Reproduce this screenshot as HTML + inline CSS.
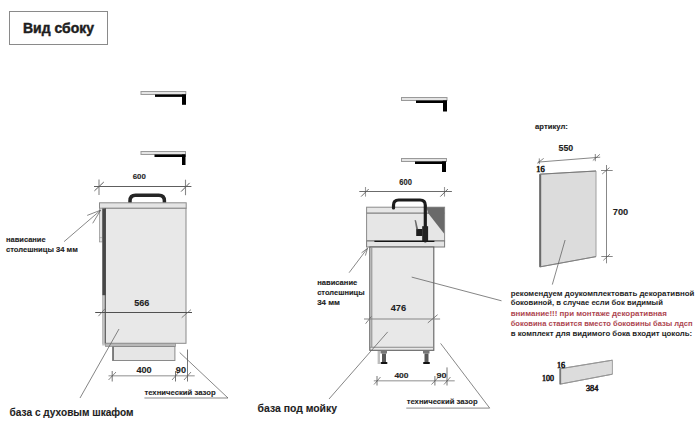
<!DOCTYPE html>
<html><head><meta charset="utf-8">
<style>
html,body{margin:0;padding:0;background:#fff;width:700px;height:428px;overflow:hidden}
svg{display:block}
text{font-family:"Liberation Sans",sans-serif;font-weight:bold;fill:#1e1e1e;stroke:#1e1e1e;stroke-width:0.12px}
.r{font-weight:normal}
.s{font-family:"Liberation Serif",serif;font-weight:normal;stroke-width:0.6px}
.red{fill:#ad4650;stroke:#ad4650}
</style></head><body>
<svg width="700" height="428" viewBox="0 0 700 428">
<!-- title -->
<rect x="9.5" y="11.5" width="98" height="33" fill="#fff" stroke="#8a8a8a" stroke-width="1"/>
<text x="23" y="33" font-size="14" style="stroke-width:0.45px" textLength="71" lengthAdjust="spacingAndGlyphs">Вид сбоку</text>

<!-- countertop profiles -->
<g id="prof">
<rect x="141" y="91.5" width="44.8" height="3" fill="#e4e4e4" stroke="#9a9a9a" stroke-width="1"/>
<rect x="155" y="94.5" width="31" height="2.4" fill="#000"/>
<rect x="182" y="94.5" width="4" height="10.3" fill="#000"/>
</g>
<rect x="141" y="151.5" width="44.5" height="3" fill="#e4e4e4" stroke="#9a9a9a" stroke-width="1"/>
<rect x="154.5" y="154.5" width="31" height="2.5" fill="#000"/>
<rect x="182" y="154.5" width="3.5" height="10.5" fill="#000"/>

<rect x="401.5" y="97.5" width="45.5" height="3" fill="#e4e4e4" stroke="#9a9a9a" stroke-width="1"/>
<rect x="416" y="100.5" width="31" height="2.5" fill="#000"/>
<rect x="443" y="100.5" width="4" height="11" fill="#000"/>
<rect x="401.5" y="158.5" width="45" height="3" fill="#e4e4e4" stroke="#9a9a9a" stroke-width="1"/>
<rect x="415" y="161.5" width="31" height="2.5" fill="#000"/>
<rect x="442" y="161.5" width="4" height="10.5" fill="#000"/>

<!-- ================= LEFT CABINET ================= -->
<text x="132.7" y="178.8" font-size="7.9" textLength="13.1" lengthAdjust="spacingAndGlyphs">600</text>
<g stroke="#888" stroke-width="1.1" fill="none">
<line x1="99" y1="179.5" x2="99" y2="195"/>
<line x1="185.5" y1="179.7" x2="185.5" y2="195.2"/>
</g>
<g stroke="#5e5e5e" stroke-width="1" fill="none">
<line x1="94" y1="186.5" x2="191.4" y2="186.5"/>
<line x1="94.4" y1="190.9" x2="103.8" y2="182"/>
<line x1="181.1" y1="191.6" x2="189.6" y2="182.9"/>
</g>
<!-- handle -->
<path d="M130 203 V200.8 Q130 195.2 135.6 195.2 H158.8 Q164.4 195.2 164.4 200.8 V203" fill="none" stroke="#262626" stroke-width="3.5"/>
<!-- countertop -->
<rect x="99.5" y="202.8" width="86.7" height="5.5" fill="#e4e4e4" stroke="#8a8a8a" stroke-width="1"/>
<!-- body -->
<rect x="102.7" y="208.3" width="83.3" height="135" fill="#e8e8e8" stroke="#8a8a8a" stroke-width="1"/>
<rect x="102.2" y="208.3" width="3.3" height="137.2" fill="#c4c4c4"/>
<line x1="105.3" y1="208.3" x2="105.3" y2="343.5" stroke="#4a4a4a" stroke-width="1"/>
<!-- side strip -->
<rect x="99.5" y="208.3" width="3" height="33.6" fill="#e2e2e2" stroke="#9a9a9a" stroke-width="0.8"/>
<line x1="99.5" y1="237.6" x2="102.5" y2="237.6" stroke="#999" stroke-width="0.6"/>
<!-- dark bar -->
<rect x="102.4" y="208.4" width="3.3" height="86.8" fill="#474747"/>
<!-- bottom board -->
<rect x="105.5" y="343.3" width="70" height="3.2" fill="#b8b8b8" stroke="#8a8a8a" stroke-width="0.7"/>
<!-- plinth -->
<rect x="112.6" y="346.5" width="62.3" height="14" fill="#e6e6e6" stroke="#8a8a8a" stroke-width="1"/>
<line x1="113.2" y1="346.5" x2="113.2" y2="360.5" stroke="#7a7a7a" stroke-width="1.6"/>

<text x="134.3" y="305.9" font-size="8.8" textLength="15.1" lengthAdjust="spacingAndGlyphs">566</text>
<g stroke="#666" stroke-width="0.8" fill="none">
<line x1="95.2" y1="312.5" x2="192" y2="312.5" stroke="#505050" stroke-width="1"/>
<line x1="98.4" y1="316.2" x2="105" y2="308.7"/>
<line x1="181.7" y1="317.7" x2="191" y2="309.6"/>
<!-- pointer -->
<line x1="80" y1="398" x2="119" y2="329"/>
</g>
<!-- 400 / 90 -->
<g stroke="#b4b4b4" stroke-width="1.6" fill="none">
<line x1="108.5" y1="375.8" x2="194.7" y2="375.8"/>
</g>
<g stroke="#666" stroke-width="0.9" fill="none">
<line x1="112.2" y1="371" x2="112.2" y2="381.5"/>
<line x1="175.5" y1="371" x2="175.5" y2="381.5"/>
<line x1="187.5" y1="349.5" x2="187.5" y2="381.5"/>
</g>
<g stroke="#555" stroke-width="0.7" fill="none">
<line x1="108.5" y1="380" x2="116" y2="372"/>
<line x1="172" y1="380" x2="179" y2="372"/>
<line x1="184" y1="380" x2="191" y2="372"/>
<line x1="179.7" y1="352.5" x2="228" y2="398"/>
<line x1="144.4" y1="398" x2="228" y2="398"/>
</g>
<text x="136.4" y="372.8" font-size="8.4" textLength="15.3" lengthAdjust="spacingAndGlyphs">400</text>
<text x="175.8" y="373" font-size="9.2" textLength="10.2" lengthAdjust="spacingAndGlyphs">90</text>
<text x="144.4" y="395" font-size="7.2" style="stroke-width:0.1px" textLength="71.2" lengthAdjust="spacingAndGlyphs">технический зазор</text>
<text x="9.6" y="416" font-size="11.8" textLength="124" lengthAdjust="spacingAndGlyphs">база с духовым шкафом</text>

<!-- overhang annotation left -->
<text x="6" y="242.1" font-size="7.7" textLength="39.6" lengthAdjust="spacingAndGlyphs">нависание</text>
<text x="6" y="252.3" font-size="7.7" textLength="71.8" lengthAdjust="spacingAndGlyphs">столешницы 34 мм</text>
<g stroke="#555" stroke-width="0.7" fill="none">
<line x1="64.1" y1="241.6" x2="100.6" y2="210.2"/>
<line x1="87.2" y1="215.4" x2="100.6" y2="210.2"/>
<line x1="92.7" y1="223.3" x2="100.6" y2="210.2"/>
</g>

<!-- ================= MIDDLE CABINET ================= -->
<text x="399.3" y="185.1" font-size="8.3" textLength="12.6" lengthAdjust="spacingAndGlyphs">600</text>
<g stroke="#999" stroke-width="1.1" fill="none">
<line x1="365.5" y1="187" x2="365.5" y2="196.6"/>
<line x1="444.5" y1="187" x2="444.5" y2="196.6"/>
</g>
<g stroke="#5a5a5a" stroke-width="0.9" fill="none">
<line x1="359.3" y1="191.5" x2="451.9" y2="191.5"/>
<line x1="361.1" y1="196.6" x2="368.7" y2="189"/>
<line x1="440.3" y1="196.6" x2="447.9" y2="189"/>
</g>
<!-- backsplash box -->
<rect x="366.6" y="207.2" width="78" height="33.6" fill="#e6e6e6" stroke="#8a8a8a" stroke-width="1"/>
<line x1="366.6" y1="213.1" x2="444.6" y2="213.1" stroke="#808080" stroke-width="1.1"/>
<polygon points="426.5,207.2 444.2,207.2 444.2,233.8 428,213" fill="#6a6a6a"/>
<!-- countertop -->
<rect x="366.6" y="241" width="78" height="6" fill="#e4e4e4" stroke="#7a7a7a" stroke-width="1"/>
<line x1="374.4" y1="241.4" x2="434.4" y2="241.4" stroke="#151515" stroke-width="1.2"/>
<!-- faucet -->
<path d="M393.5 208 V205.2 Q393.5 200 398.7 200 H420 Q425.3 200 425.3 205.3 V241" fill="none" stroke="#1c1c1c" stroke-width="3.2" stroke-linecap="round"/>
<rect x="422.2" y="226.2" width="5.9" height="14.8" fill="#222"/>
<rect x="416.2" y="229" width="6.2" height="7" fill="#1e1e1e"/>
<polygon points="414.6,220 416,220.3 418.2,229.2 416.2,229.2" fill="#6a6a6a"/>
<!-- body -->
<rect x="369.8" y="247" width="64" height="103.3" fill="#e8e8e8" stroke="#606060" stroke-width="1.1"/>
<line x1="371.8" y1="247.5" x2="371.8" y2="347" stroke="#7a7a7a" stroke-width="0.9"/>
<line x1="370" y1="347.2" x2="433.5" y2="347.2" stroke="#8a8a8a" stroke-width="1.1"/>
<!-- legs -->
<rect x="377.6" y="351" width="2.4" height="13" fill="#bdbdbd"/>
<rect x="380.5" y="351" width="6.5" height="2.5" fill="#777"/>
<rect x="382" y="353.5" width="4" height="8.5" fill="#585858"/>
<rect x="380.5" y="362" width="7" height="2" rx="1" fill="#111"/>
<rect x="423" y="351" width="6.5" height="2.5" fill="#777"/>
<rect x="424.5" y="353.5" width="4" height="8.5" fill="#585858"/>
<rect x="423" y="362" width="7" height="2" rx="1" fill="#111"/>

<text x="390.7" y="311.1" font-size="9" textLength="15.4" lengthAdjust="spacingAndGlyphs">476</text>
<g stroke="#666" stroke-width="0.8" fill="none">
<line x1="364" y1="319" x2="440.1" y2="319" stroke="#858585" stroke-width="1.2"/>
<line x1="365.6" y1="323.7" x2="371.4" y2="316.4"/>
<line x1="427.8" y1="322.9" x2="437.6" y2="314.7"/>
<line x1="329" y1="399" x2="387.7" y2="331.9"/>
<line x1="411.7" y1="277.1" x2="501.5" y2="300.8"/>
</g>
<g stroke="#b4b4b4" stroke-width="1.5" fill="none">
<line x1="373.8" y1="380.7" x2="454.7" y2="380.7"/>
</g>
<g stroke="#666" stroke-width="0.9" fill="none">
<line x1="377" y1="376" x2="377" y2="385.5"/>
<line x1="434.9" y1="376" x2="434.9" y2="385.5"/>
<line x1="447" y1="367.4" x2="447" y2="385.5"/>
</g>
<g stroke="#555" stroke-width="0.7" fill="none">
<line x1="374" y1="384.5" x2="380.5" y2="377"/>
<line x1="431.5" y1="384.5" x2="438.5" y2="377"/>
<line x1="444" y1="384.5" x2="450.5" y2="377"/>
<line x1="440.6" y1="343.4" x2="489.7" y2="408.1"/>
<line x1="406.3" y1="408.1" x2="489.7" y2="408.1"/>
</g>
<text x="394.4" y="378.2" font-size="8" textLength="14.2" lengthAdjust="spacingAndGlyphs">400</text>
<text x="436.5" y="378.2" font-size="8" textLength="10" lengthAdjust="spacingAndGlyphs">90</text>
<text x="406.7" y="403.5" font-size="7.2" style="stroke-width:0.1px" textLength="70.9" lengthAdjust="spacingAndGlyphs">технический зазор</text>
<text x="257.6" y="411.6" font-size="11" textLength="79.4" lengthAdjust="spacingAndGlyphs">база под мойку</text>

<text x="317.2" y="285" font-size="7.7" textLength="40.1" lengthAdjust="spacingAndGlyphs">нависание</text>
<text x="317.2" y="295.3" font-size="7.7" textLength="47.4" lengthAdjust="spacingAndGlyphs">столешницы</text>
<text x="317.2" y="305.1" font-size="7.7" textLength="22.8" lengthAdjust="spacingAndGlyphs">34 мм</text>
<g stroke="#555" stroke-width="0.7" fill="none">
<line x1="349.1" y1="272.7" x2="367.5" y2="248.3"/>
<line x1="361.5" y1="252.9" x2="367.5" y2="248.3"/>
<line x1="365.4" y1="255.6" x2="367.5" y2="248.3"/>
</g>

<!-- ================= RIGHT PANEL ================= -->
<text x="535.1" y="128.9" font-size="7" textLength="32.7" lengthAdjust="spacingAndGlyphs">артикул:</text>
<text x="558.5" y="151.3" font-size="8.8" textLength="14.7" lengthAdjust="spacingAndGlyphs">550</text>
<g stroke="#555" stroke-width="0.7" fill="none">
<line x1="538" y1="162.1" x2="600.2" y2="157.2"/>
<line x1="539.3" y1="158.4" x2="539.3" y2="164.1"/>
<line x1="537.2" y1="163.3" x2="543.7" y2="158.4"/>
<line x1="595.3" y1="154" x2="595.3" y2="161.2"/>
<line x1="592.8" y1="160.5" x2="599.9" y2="154.3"/>
</g>
<text x="536.2" y="171.7" font-size="8" class="s" textLength="8.4" lengthAdjust="spacingAndGlyphs">16</text>
<polygon points="539.8,174.2 596,171 596,256.6 539.8,266.9" fill="#dcdcdc" stroke="#a0a0a0" stroke-width="1"/>
<polyline points="539.8,266.9 539.8,174.2 596,171" fill="none" stroke="#7a7a7a" stroke-width="1"/>
<line x1="539.8" y1="266.9" x2="596" y2="256.6" stroke="#808080" stroke-width="1"/>
<line x1="540.4" y1="174.5" x2="540.4" y2="266.7" stroke="#6a6a6a" stroke-width="1.6"/>
<g stroke="#555" stroke-width="0.7" fill="none">
<line x1="606.5" y1="165" x2="606.5" y2="263.3"/>
<line x1="601" y1="170.5" x2="612.7" y2="170.5"/>
<line x1="601.3" y1="256.5" x2="612.7" y2="256.5"/>
<line x1="602.2" y1="174" x2="609.5" y2="167.6"/>
<line x1="603.3" y1="260.4" x2="610" y2="254.1"/>
<line x1="565.1" y1="240" x2="552.3" y2="284.6"/>
</g>
<text x="612.8" y="215.3" font-size="8.7" textLength="15.4" lengthAdjust="spacingAndGlyphs">700</text>

<text x="510.7" y="295.8" font-size="7.9" style="stroke-width:0" textLength="183.6" lengthAdjust="spacingAndGlyphs">рекомендуем доукомплектовать декоративной</text>
<text x="510.7" y="305.4" font-size="7.9" style="stroke-width:0" textLength="152.2" lengthAdjust="spacingAndGlyphs">боковиной, в случае если бок видимый</text>
<text x="510.7" y="316.1" font-size="7.9" style="stroke-width:0" class="red" textLength="156.2" lengthAdjust="spacingAndGlyphs">внимание!!! при монтаже декоративная</text>
<text x="510.7" y="326.1" font-size="7.9" style="stroke-width:0" class="red" textLength="181.9" lengthAdjust="spacingAndGlyphs">боковина ставится вместо боковины базы лдсп</text>
<text x="510.7" y="335.9" font-size="7.9" style="stroke-width:0" textLength="181.4" lengthAdjust="spacingAndGlyphs">в комплект для видимого бока входит цоколь:</text>

<polygon points="559.8,368.8 612.4,360.2 612.4,374.2 559.8,384.2" fill="#dcdcdc" stroke="#a0a0a0" stroke-width="1"/>
<line x1="559.8" y1="368.8" x2="612.4" y2="360.2" stroke="#969696" stroke-width="1"/>
<line x1="559.8" y1="384.2" x2="612.4" y2="374.2" stroke="#969696" stroke-width="1"/>
<line x1="560.4" y1="369" x2="560.4" y2="384" stroke="#7a7a7a" stroke-width="1.5"/>
<text x="556.9" y="367.5" font-size="8" class="s" textLength="8.1" lengthAdjust="spacingAndGlyphs">16</text>
<text x="542.1" y="380.6" font-size="8.6" class="s" textLength="11.9" lengthAdjust="spacingAndGlyphs">100</text>
<text x="586" y="391" font-size="8.6" class="s" textLength="12.3" lengthAdjust="spacingAndGlyphs">384</text>
</svg>
</body></html>
